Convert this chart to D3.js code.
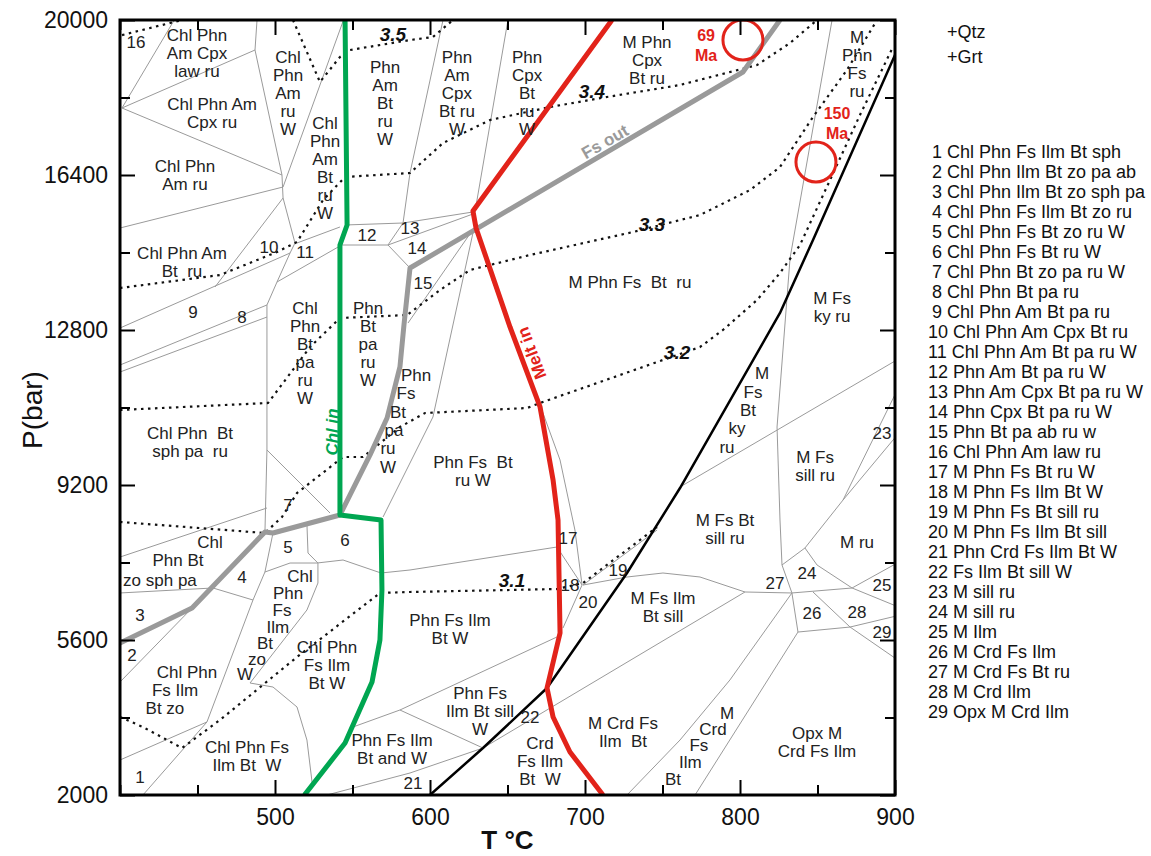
<!DOCTYPE html>
<html><head><meta charset="utf-8">
<script src="https://cdn.jsdelivr.net/npm/d3@7"></script>
<style>
body{margin:0;background:#fff;}
svg text{font-family:"Liberation Sans",Arial,sans-serif;white-space:pre;}
</style></head>
<body>
<svg id="chart" width="1151" height="856"></svg>
<script>
// ---------- DATA (T in °C, P in bar) ----------
const xTickMajor = [500,600,700,800,900];
const xTickMinor = [400,450,550,650,750,850];
const yTickMajor = [2000,5600,9200,12800,16400,20000];
const yTickMinor = [3800,7400,11000,14600,18200];

const chlIn = [[545.2,20000],[546.5,15239],[541.9,14774],[541.9,8503],[568.4,8387],[569,6761],[567.7,5600],[562.6,4624],[545.2,3207],[519,2000]];
const meltIn = [[717.4,20000],[627.7,15564],[629.7,15169],[651.6,12870],[671,11012],[679.4,9316],[682.6,8387],[683.9,5762],[675.5,4485],[679.4,3812],[690.3,2999],[711.6,2000]];
const fsOut = [[400,5530],[446.5,6343],[493.5,8108],[498.7,8085],[541.9,8503],[548.4,8968],[561.3,9897],[572.3,10756],[580.6,11941],[583.2,12916],[587.1,14240],[801.9,18792],[825.8,20000]];
const blackLine = [[600,2000],[634.2,3091],[675.5,4485],[727.1,7156],[761.3,9130],[825.8,13195],[847.1,14890],[900,19187]];

const phaseBoundaries = [
 [[401.3,17956],[435,20000]],
 [[401.3,17956],[487.1,19303]],
 [[488.4,20000],[487.1,19303],[504.5,16400]],
 [[401.3,17956],[504.5,16400]],
 [[400,15169],[505.2,16121]],
 [[504.5,16400],[505.2,15866],[512.9,14821]],
 [[544.2,20000],[505.2,16121]],
 [[505.2,15866],[461.3,13799]],
 [[514.2,14821],[541.9,15192]],
 [[400,12846],[509.7,14588]],
 [[512.9,14821],[509.7,14588],[501.3,13915],[494.8,13381],[494.8,10013],[493.5,8085]],
 [[400,11987],[494.8,13381]],
 [[400,11824],[494.8,13101]],
 [[501.3,13915],[541.9,14751]],
 [[545.2,15239],[582.6,15285]],
 [[541.9,14774],[572.9,14774]],
 [[582.6,15285],[572.9,14774]],
 [[572.9,14774],[587.1,14240]],
 [[608.4,20000],[587.1,16446],[582.6,15285]],
 [[582.6,15285],[627.7,15541]],
 [[572.9,14774],[627.7,15494]],
 [[650.3,20000],[629,15541]],
 [[628.4,15169],[585.8,12962]],
 [[628.4,15169],[601.9,10779],[569.7,8457]],
 [[640,13962],[671,11058],[683.9,9781],[693.5,8155],[698.1,6877]],
 [[493.5,7179],[509.7,7388],[527.1,7388],[543.9,7458],[568.4,7156],[587.1,7226],[681.9,7760]],
 [[681.9,7760],[698.1,6877]],
 [[698.1,6877],[685.8,5878]],
 [[698.7,6877],[746.5,8155]],
 [[698.7,6877],[727.1,7063],[750.3,7156],[774.2,7063],[803.2,6715],[833.5,6692],[872.3,6808]],
 [[550.3,3579],[580.6,3974],[681.9,5670]],
 [[580.6,3974],[634.2,3091]],
 [[533.5,2000],[587.1,2511],[634.2,3091]],
 [[634.2,3091],[803.2,6715]],
 [[727.1,2000],[761.3,3277],[793.5,4672],[833.5,6692]],
 [[771,2000],[837.4,5785]],
 [[833.5,6692],[837.4,5785]],
 [[837.4,5785],[871,5901],[900,6150]],
 [[847.1,6715],[871,5901],[900,5180]],
 [[872.3,6808],[900,7360]],
 [[872.3,6808],[900,6400]],
 [[827.1,7342],[833.5,6692]],
 [[827.1,7342],[841.9,7737]],
 [[841.9,7737],[849.7,7342],[872.3,6808]],
 [[841.9,7737],[866.5,8852],[900,11300]],
 [[866.5,8852],[900,10300]],
 [[859.4,20000],[832.3,14472],[823.9,10547],[825.8,8387],[827.1,7342]],
 [[761.3,9154],[900,12080]],
 [[520.6,8294],[521.3,7620],[527.7,7388]],
 [[527.7,7388],[527.7,6923],[520.6,6297],[483.9,4601]],
 [[483.9,4601],[498.7,4508],[514.2,4044],[520.6,3277],[523.9,2302]],
 [[498.7,8085],[493.5,7179],[485.8,6529],[456.1,3696],[414.8,2000]],
 [[400,6692],[460,6808],[485.8,6529]],
 [[400,4624],[446.5,6343]],
 [[400,2813],[456.1,3696]],
 [[400,7527],[494.8,8666]],
 [[494.8,10013],[535.5,8550]]
];

const isoTop = [[401.3,19650],[440,20000]];
const iso35 = [[511.6,20000],[529,18560],[541.9,19141],[548.4,19303],[587.1,19535],[601.9,19605],[614.8,20000]];
const iso34 = [[400,13775],[464.5,14077],[501.3,14612],[514.2,14844],[531,15819],[545.2,16354],[587.1,16446],[608.4,17143],[638.7,17677],[677.4,17979],[714.2,18212],[761.3,18490],[811,18955],[832.3,19466],[849.7,20000]];
const iso33 = [[400,10942],[495.5,11105],[522.6,12405],[541.9,13078],[585.2,13148],[606.5,13729],[625.8,14194],[664.5,14542],[731,15076],[774.2,15471],[806.5,16052],[825.8,16586],[847.1,17747],[869,18839],[888.4,20000]];
const iso32 = [[400,8341],[493.5,8085],[504.5,8457],[514.2,9014],[543.9,9850],[556.8,9850],[580.6,10547],[596.8,10872],[662.6,10988],[671,11105],[774.2,12405],[789,12800],[811,13497],[825.8,14124],[838.7,14774],[858.1,16284],[877.4,17794],[898.7,19373]];
const iso31 = [[400,3812],[414.8,3579],[440,3091],[464.5,3742],[514.2,5205],[567.7,6692],[587.1,6715],[681.9,6784],[698.7,6923],[746.5,8224]];
const isopleths = [isoTop, iso35, iso34, iso33, iso32, iso31];
const isoLabels = [[576.1,19652,"3.5"],[704.5,18328,"3.4"],[743.2,15239,"3.3"],[759.4,12289,"3.2"],[652.9,6993,"3.1"]];

const ageCircles = [[801.9,19535],[849,16702]];
const ageLabels = [[778.1,19652,"69|Ma"],[862.6,17840,"150|Ma"]];

const fieldLabels = [
 [410.3,19489,"16"],
 [449.7,19652,"Chl Phn|Am Cpx|law ru"],
 [459.4,18049,"Chl Phn Am|Cpx ru"],
 [441.9,16609,"Chl Phn|Am ru"],
 [508.4,19141,"Chl|Phn|Am|ru|W"],
 [532.3,17608,"Chl|Phn|Am|Bt|ru|W"],
 [571,18908,"Phn|Am|Bt|ru|W"],
 [617.4,19141,"Phn|Am|Cpx|Bt ru|W"],
 [662.6,19141,"Phn|Cpx|Bt|ru|W"],
 [740,19489,"M Phn|Cpx|Bt ru"],
 [875.5,19605,"M|Phn|Fs|ru"],
 [440,14588,"Chl Phn Am|Bt  ru"],
 [496.1,14728,"10"],[519.4,14612,"11"],[559.4,15006,"12"],[587.1,15169,"13"],[591.6,14704,"14"],[595.5,13892,"15"],
 [447.1,13218,"9"],[478.7,13102,"8"],
 [519.4,13311,"Chl|Phn|Bt|pa|ru|W"],
 [560,13311,"Phn|Bt|pa|ru|W"],
 [591,11755,"Phn"],[584.5,11337,"Fs"],[579.4,10896,"Bt"],[576.8,10477,"pa"],[572.9,10059,"ru"],[572.9,9618,"W"],
 [445.2,10408,"Chl Phn  Bt|sph pa  ru"],
 [508.4,8735,"7"],
 [729,13915,"M Phn Fs  Bt  ru"],
 [627.7,9734,"Phn Fs  Bt|ru W"],
 [814.2,11801,"M"],[808.4,11360,"Fs"],[805.2,10942,"Bt"],[798.1,10524,"ky"],[791.6,10083,"ru"],
 [859.4,13543,"M Fs|ky ru"],
 [848.4,9850,"M Fs|sill ru"],
 [891.6,10408,"23"],
 [790.3,8387,"M Fs Bt|sill ru"],
 [875.5,7876,"M ru"],
 [843.2,7156,"24"],[822.6,6923,"27"],[891.6,6877,"25"],[846.5,6227,"26"],[875.5,6250,"28"],[891.6,5786,"29"],
 [791.6,3905,"M"],[782.6,3530,"Crd"],[773.5,3150,"Fs"],[768,2760,"Ilm"],[756.8,2380,"Bt"],
 [849.7,3440,"Opx M|Crd Fs Ilm"],
 [750.3,6575,"M Fs Ilm|Bt sill"],
 [689,7969,"17"],[690.3,6877,"18"],[721.3,7226,"19"],[701.9,6483,"20"],
 [612.9,6064,"Phn Fs Ilm|Bt W"],
 [632.3,4369,"Phn Fs|Ilm Bt sill|W"],
 [664.5,3812,"22"],
 [671,3207,"Crd|Fs Ilm|Bt  W"],
 [724.5,3672,"M Crd Fs|Ilm  Bt"],
 [589,2279,"21"],
 [458.1,7876,"Chl"],[437.4,7458,"Phn Bt"],[425.8,6993,"zo sph pa"],
 [508.4,7760,"5"],[545.2,7923,"6"],[478.7,7063,"4"],[412.9,6181,"3"],[407.7,5251,"2"],
 [516.1,7086,"Chl"],[508.4,6692,"Phn"],[504.5,6297,"Fs"],[501.9,5901,"Ilm"],[493.5,5530,"Bt"],[488.4,5160,"zo"],[480.6,4810,"W"],
 [533.5,5437,"Chl Phn|Fs Ilm|Bt W"],
 [443.2,4857,"Chl Phn"],[435.5,4439,"Fs Ilm"],[429,4021,"Bt zo"],
 [481.9,3115,"Chl Phn Fs|Ilm Bt  W"],
 [412.9,2418,"1"],
 [575.5,3277,"Phn Fs Ilm|Bt and W"]
];

const curveLabels = [
 [712.9,17166,"Fs out",-30,"#9a9a9a","normal"],
 [665.8,12266,"Melt in",-111,"#e2231a","normal"],
 [536.8,10431,"Chl in",-90,"#00a651","italic"]
];

const extraPhases = ["+Qtz","+Grt"];
const legendItems = [
 "1 Chl Phn Fs Ilm Bt sph","2 Chl Phn Ilm Bt zo pa ab","3 Chl Phn Ilm Bt zo sph pa","4 Chl Phn Fs Ilm Bt zo ru",
 "5 Chl Phn Fs Bt zo ru W","6 Chl Phn Fs Bt ru W","7 Chl Phn Bt zo pa ru W","8 Chl Phn Bt pa ru",
 "9 Chl Phn Am Bt pa ru","10 Chl Phn Am Cpx Bt ru","11 Chl Phn Am Bt pa ru W","12 Phn Am Bt pa ru W",
 "13 Phn Am Cpx Bt pa ru W","14 Phn Cpx Bt pa ru W","15 Phn Bt pa ab ru w","16 Chl Phn Am law ru",
 "17 M Phn Fs Bt ru W","18 M Phn Fs Ilm Bt W","19 M Phn Fs Bt sill ru","20 M Phn Fs Ilm Bt sill",
 "21 Phn Crd Fs Ilm Bt W","22 Fs Ilm Bt sill W","23 M sill ru","24 M sill ru","25 M Ilm",
 "26 M Crd Fs Ilm","27 M Crd Fs Bt ru","28 M Crd Ilm","29 Opx M Crd Ilm"
];

// ---------- DRAW ----------
const svg = d3.select("#chart");
const x = d3.scaleLinear().domain([400,900]).range([120,895]);
const y = d3.scaleLinear().domain([2000,20000]).range([795,20]);
const line = d3.line().x(d=>x(d[0])).y(d=>y(d[1]));

svg.append("defs").append("clipPath").attr("id","clip")
  .append("rect").attr("x",x(400)).attr("y",y(20000)).attr("width",x(900)-x(400)).attr("height",y(2000)-y(20000));
const plot = svg.append("g").attr("clip-path","url(#clip)");

plot.selectAll(".pb").data(phaseBoundaries).join("path")
  .attr("d",line).attr("fill","none").attr("stroke","#9a9a9a").attr("stroke-width",1);

plot.selectAll(".iso").data(isopleths).join("path")
  .attr("d",line).attr("fill","none").attr("stroke","#111").attr("stroke-width",2.2).attr("stroke-dasharray","2.5,4.5");

const mainCurves = [[blackLine,"#000",2.5],[fsOut,"#9a9a9a",5],[chlIn,"#00a651",5],[meltIn,"#e2231a",5]];
plot.selectAll(".mc").data(mainCurves).join("path")
  .attr("d",d=>line(d[0])).attr("fill","none").attr("stroke",d=>d[1]).attr("stroke-width",d=>d[2])
  .attr("stroke-linejoin","round");

plot.selectAll(".ac").data(ageCircles).join("circle")
  .attr("cx",d=>x(d[0])).attr("cy",d=>y(d[1])).attr("r",20)
  .attr("fill","none").attr("stroke","#e2231a").attr("stroke-width",3);

// field labels
const fl = svg.append("g").attr("font-size",17).attr("fill","#222");
fieldLabels.forEach(d=>{
  const t = fl.append("text").attr("text-anchor","middle").attr("dominant-baseline","central")
    .attr("x",x(d[0])).attr("y",y(d[1]));
  d[2].split("|").forEach((s,i)=>t.append("tspan").attr("x",x(d[0])).attr("dy",i?18:0).text(s));
});

svg.append("g").selectAll("text").data(isoLabels).join("text")
  .attr("x",d=>x(d[0])).attr("y",d=>y(d[1])).attr("text-anchor","middle").attr("dominant-baseline","central")
  .attr("font-size",19).attr("font-weight","bold").attr("font-style","italic").attr("fill","#111").text(d=>d[2]);

ageLabels.forEach(d=>{
  const t = svg.append("text").attr("text-anchor","middle").attr("dominant-baseline","central")
    .attr("x",x(d[0])).attr("y",y(d[1])).attr("font-size",16).attr("font-weight","bold").attr("fill","#e2231a");
  d[2].split("|").forEach((s,i)=>t.append("tspan").attr("x",x(d[0])).attr("dy",i?20:0).text(s));
});

svg.append("g").selectAll("text").data(curveLabels).join("text")
  .attr("transform",d=>`translate(${x(d[0])},${y(d[1])}) rotate(${d[3]})`)
  .attr("text-anchor","middle").attr("dominant-baseline","central")
  .attr("font-size",17).attr("font-weight","bold").attr("font-style",d=>d[5]).attr("fill",d=>d[4]).text(d=>d[2]);

// axes (inward ticks on all sides)
function styleAxis(g){ g.select(".domain").remove(); g.selectAll("line").attr("stroke","#000").attr("stroke-width",2); }
const axFont = '"Liberation Sans",Arial,sans-serif';
svg.append("g").attr("transform",`translate(0,${y(2000)})`)
  .call(d3.axisBottom(x).tickValues(xTickMajor).tickSize(-15).tickPadding(14).tickFormat(d3.format("d")))
  .call(styleAxis).call(g=>g.selectAll("text").attr("font-size",23).attr("fill","#111").style("font-family",axFont));
svg.append("g").attr("transform",`translate(0,${y(2000)})`)
  .call(d3.axisBottom(x).tickValues(xTickMinor).tickSize(-10).tickFormat("")).call(styleAxis);
svg.append("g").attr("transform",`translate(0,${y(20000)})`)
  .call(d3.axisTop(x).tickValues(xTickMajor).tickSize(-15).tickFormat("")).call(styleAxis);
svg.append("g").attr("transform",`translate(0,${y(20000)})`)
  .call(d3.axisTop(x).tickValues(xTickMinor).tickSize(-10).tickFormat("")).call(styleAxis);
svg.append("g").attr("transform",`translate(${x(400)},0)`)
  .call(d3.axisLeft(y).tickValues(yTickMajor).tickSize(-15).tickPadding(12).tickFormat(d3.format("d")))
  .call(styleAxis).call(g=>g.selectAll("text").attr("font-size",23).attr("fill","#111").style("font-family",axFont));
svg.append("g").attr("transform",`translate(${x(400)},0)`)
  .call(d3.axisLeft(y).tickValues(yTickMinor).tickSize(-10).tickFormat("")).call(styleAxis);
svg.append("g").attr("transform",`translate(${x(900)},0)`)
  .call(d3.axisRight(y).tickValues(yTickMajor).tickSize(-15).tickFormat("")).call(styleAxis);
svg.append("g").attr("transform",`translate(${x(900)},0)`)
  .call(d3.axisRight(y).tickValues(yTickMinor).tickSize(-10).tickFormat("")).call(styleAxis);

svg.append("rect").attr("x",x(400)).attr("y",y(20000)).attr("width",x(900)-x(400)).attr("height",y(2000)-y(20000))
  .attr("fill","none").attr("stroke","#000").attr("stroke-width",3);

svg.append("text").attr("transform","translate(32,410) rotate(-90)").attr("text-anchor","middle")
  .attr("dominant-baseline","central").attr("font-size",28).style("font-family",axFont).attr("fill","#111").text("P(bar)");
svg.append("text").attr("x",(x(400)+x(900))/2).attr("y",840).attr("text-anchor","middle")
  .attr("dominant-baseline","central").attr("font-size",26).attr("font-weight","bold").attr("fill","#111").text("T °C");

svg.append("g").selectAll("text").data(extraPhases).join("text")
  .attr("x",947).attr("y",(d,i)=>32+i*25).attr("dominant-baseline","central").attr("font-size",18).attr("fill","#111").text(d=>d);

svg.append("g").selectAll("text").data(legendItems).join("text")
  .attr("x",(d,i)=>i<9?932:928).attr("y",(d,i)=>152+i*20).attr("dominant-baseline","central")
  .attr("font-size",18).attr("fill","#111").text(d=>d);
</script>
</body></html>
